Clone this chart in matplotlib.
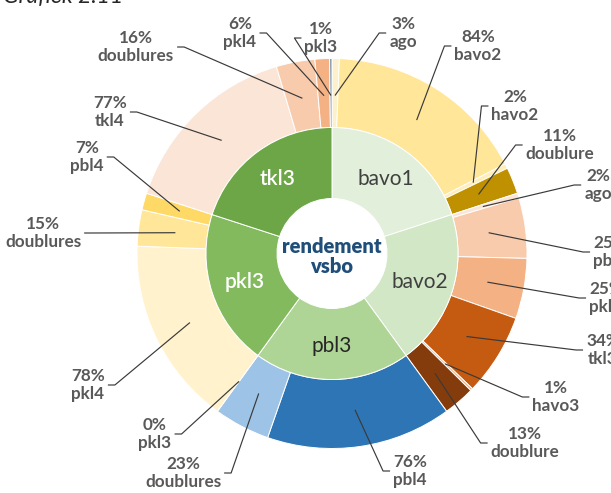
import matplotlib
matplotlib.use("Agg")
import matplotlib.pyplot as plt
import numpy as np

W, H = 611, 493

# ---------------- data ----------------
parents = ["bavo1", "bavo2", "pbl3", "pkl3", "tkl3"]
parent_share = [20, 20, 20, 20, 20]

bavo1_names = ["ago", "bavo2", "havo2", "doublure"]
bavo1_pcts = [3, 84, 2, 11]
bavo2_names = ["ago", "pbl4", "pkl3", "tkl3", "havo3", "doublure"]
bavo2_pcts = [2, 25, 25, 34, 1, 13]
pbl3_names = ["pbl4", "doublures", "pkl3"]
pbl3_pcts = [76, 23, 0]
pkl3_names = ["pkl4", "doublures", "pbl4"]
pkl3_pcts = [78, 15, 7]
tkl3_names = ["tkl4", "doublures", "pkl4", "pkl3"]
tkl3_pcts = [77, 16, 6, 1]

center_title = "rendement\nvsbo"
chart_title = "Grafiek 2.11"

# ---------------- styles ----------------
parent_colors = ["#e2efda", "#d2e7c6", "#afd596", "#83ba5e", "#6ca646"]
parent_text_colors = ["#404040", "#404040", "#262626", "white", "white"]
child_colors = [
    ["#fdf1cc", "#ffe699", "#ffeeb8", "#bf9000"],
    ["#fbe5d6", "#f8cbad", "#f4b183", "#c55a11", "#f4b183", "#843c0c"],
    ["#2e75b6", "#9dc3e6", "#bdd7ee"],
    ["#fff2cc", "#ffe699", "#ffd966"],
    ["#fbe5d6", "#f8cbad", "#f4b183", "#8497b0"],
]
# label block centres (pixel coords, origin top-left), same order as outer wedges
label_pos = [
    (403, 33), (478, 46), (515, 106), (560, 145),
    (598, 185), (610, 252), (606, 298), (603, 350), (556, 397), (525, 443),
    (410, 471), (183, 473), (155, 434),
    (88, 385), (43, 233), (87, 157),
    (110, 112), (136, 47), (240, 33), (321, 38),
]

plt.rcParams["font.family"] = ["Lato", "DejaVu Sans"]

fig = plt.figure(figsize=(W / 100, H / 100), dpi=100)
ax = fig.add_axes([0, 0, 1, 1])

cx, cy = 332, H - 253.5
R_out, R_mid, R_in = 195, 126, 55

groups_names = [bavo1_names, bavo2_names, pbl3_names, pkl3_names, tkl3_names]
groups_pcts = [bavo1_pcts, bavo2_pcts, pbl3_pcts, pkl3_pcts, tkl3_pcts]

outer_sizes, outer_colors, outer_texts = [], [], []
for share, names, pcts, cols in zip(parent_share, groups_names, groups_pcts, child_colors):
    tot = float(sum(pcts))
    for n, p, c in zip(names, pcts, cols):
        outer_sizes.append(share * p / tot)
        outer_colors.append(c)
        outer_texts.append(f"{p}%\n{n}")

outer_wedges, _ = ax.pie(outer_sizes, radius=R_out, center=(cx, cy), startangle=90,
                         counterclock=False, colors=outer_colors,
                         wedgeprops=dict(width=R_out - R_mid, edgecolor="white", linewidth=0.7))
inner_wedges, _ = ax.pie(parent_share, radius=R_mid, center=(cx, cy), startangle=90,
                         counterclock=False, colors=parent_colors,
                         wedgeprops=dict(width=R_mid - R_in, edgecolor="white", linewidth=0.7))

ax.set_xlim(0, W)
ax.set_ylim(0, H)
ax.set_aspect("equal")
ax.axis("off")

# inner labels
for w, name, tc in zip(inner_wedges, parents, parent_text_colors):
    a = np.deg2rad((w.theta1 + w.theta2) / 2)
    r = 92
    ax.text(cx + r * np.cos(a), cy + r * np.sin(a), name, ha="center", va="center",
            fontsize=15, color=tc, fontweight="semibold" if tc == "white" else "normal")

ax.text(cx, cy - 3, center_title, ha="center", va="center", fontsize=14.5,
        fontweight="heavy", color="#1f4e79", linespacing=1.05)

# outer labels with leader lines
fig.canvas.draw()
renderer = fig.canvas.get_renderer()
for w, txt, (lx, ly) in zip(outer_wedges, outer_texts, label_pos):
    ly = H - ly
    t = ax.text(lx, ly, txt, ha="center", va="center", fontsize=12.3,
                fontweight="bold", color="#595959", linespacing=1.2)
    bb = t.get_window_extent(renderer)
    a = np.deg2rad((w.theta1 + w.theta2) / 2)
    r = 158
    px, py = cx + r * np.cos(a), cy + r * np.sin(a)
    if px > bb.x1:
        x0 = bb.x1 + 3
        tick = x0 + 7
    else:
        x0 = bb.x0 - 3
        tick = x0 - 7
    ax.plot([x0, tick, px], [ly, ly, py], color="#3a3a3a", lw=0.85, solid_capstyle="butt")

ax.text(3, H - 3, chart_title, ha="left", va="baseline", fontsize=16.5,
        style="italic", color="#262626")

fig.savefig("out.png", dpi=100)
